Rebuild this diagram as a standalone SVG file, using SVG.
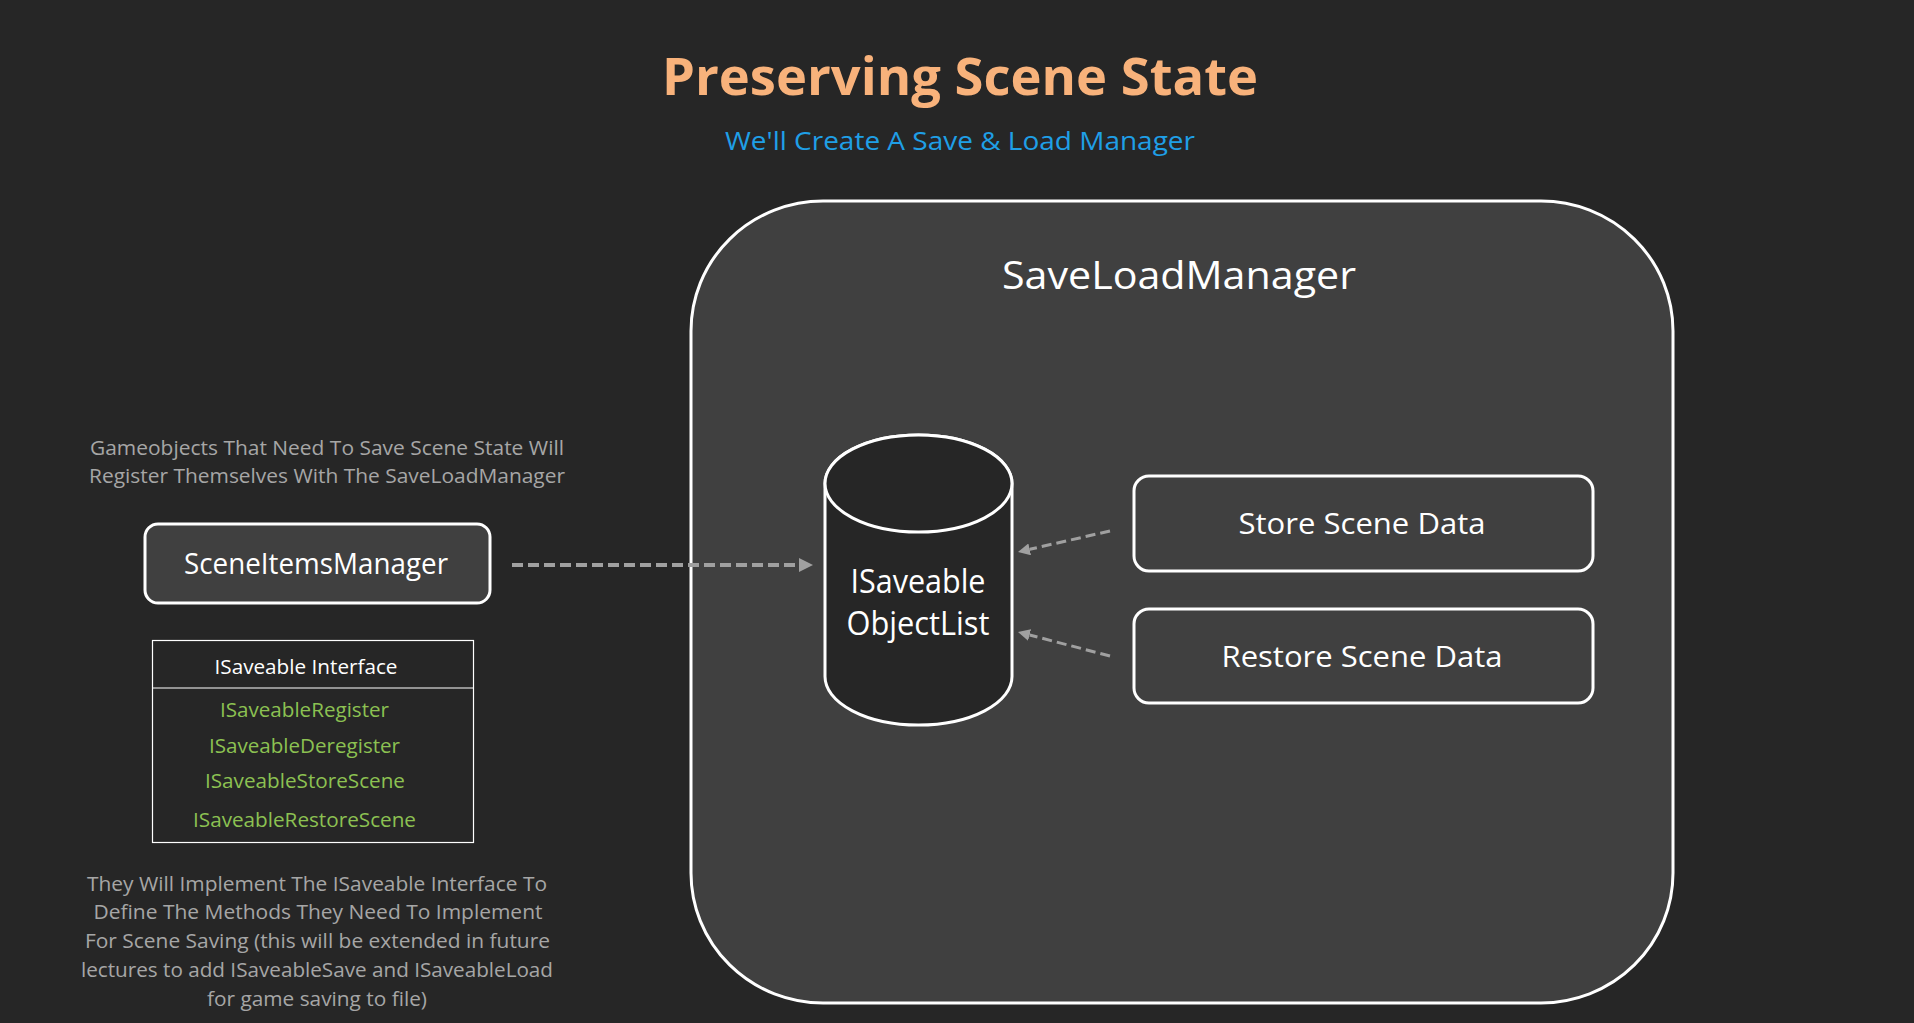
<svg xmlns="http://www.w3.org/2000/svg" width="1914" height="1023" viewBox="0 0 1914 1023">
<defs>
<style>
text{font-family:"Open Sans","Noto Sans","DejaVu Sans",sans-serif;text-anchor:middle}
.title{font-size:52px;font-weight:700;fill:#F8B27B}
.sub{font-size:25.5px;fill:#1F9FE6}
.lbl{fill:#FFFFFF}
.cap{font-size:20.5px;fill:#A6A6A6}
.green{font-size:20px;fill:#8CC152}
.hdr{font-size:20px;fill:#FFFFFF}
.box{fill:#404040;stroke:#FFFFFF;stroke-width:3}
.conn{fill:none;stroke:#A0A0A0}
</style>
<marker id="ah" markerUnits="userSpaceOnUse" markerWidth="14" markerHeight="14" refX="0" refY="7" orient="auto" viewBox="0 0 14 14">
<path d="M0,0 L14,7 L0,14 z" fill="#A0A0A0"/>
</marker>
<marker id="ah2" markerUnits="userSpaceOnUse" markerWidth="12" markerHeight="12" refX="0" refY="6" orient="auto" viewBox="0 0 12 12">
<path d="M0,0 L12,6 L0,12 z" fill="#A0A0A0"/>
</marker>
</defs>
<rect x="0" y="0" width="1914" height="1023" fill="#262626"/>

<g id="title">
<text class="title" x="960" y="95" textLength="596" lengthAdjust="spacingAndGlyphs">Preserving Scene State</text>
<text class="sub" x="960" y="150" textLength="470" lengthAdjust="spacingAndGlyphs">We'll Create A Save &amp; Load Manager</text>
</g>

<g id="saveloadmanager">
<rect x="691" y="201" width="982" height="802" rx="132" ry="130" fill="#404040" stroke="#FFFFFF" stroke-width="3"/>
<text class="lbl" x="1179" y="289" font-size="38" textLength="354" lengthAdjust="spacingAndGlyphs">SaveLoadManager</text>
</g>

<g id="objectlist">
<path d="M825,483.5 L825,676.5 A93.5,48.5 0 0 0 1012,676.5 L1012,483.5 A93.5,48.5 0 0 0 825,483.5 Z" fill="#262626" stroke="#FFFFFF" stroke-width="3"/>
<ellipse cx="918.5" cy="483.5" rx="93.5" ry="48.5" fill="#262626" stroke="#FFFFFF" stroke-width="3"/>
<text class="lbl" x="918" y="593" font-size="32" textLength="135" lengthAdjust="spacingAndGlyphs">ISaveable</text>
<text class="lbl" x="918" y="635" font-size="32" textLength="143" lengthAdjust="spacingAndGlyphs">ObjectList</text>
</g>

<g id="store">
<rect class="box" x="1134" y="476" width="459" height="95" rx="15" ry="15"/>
<text class="lbl" x="1362" y="534" font-size="30" textLength="247" lengthAdjust="spacingAndGlyphs">Store Scene Data</text>
</g>

<g id="restore">
<rect class="box" x="1134" y="609" width="459" height="94" rx="15" ry="15"/>
<text class="lbl" x="1362" y="667" font-size="30" textLength="281" lengthAdjust="spacingAndGlyphs">Restore Scene Data</text>
</g>

<g id="sceneitems">
<text class="cap" x="327" y="455" textLength="474" lengthAdjust="spacingAndGlyphs">Gameobjects That Need To Save Scene State Will</text>
<text class="cap" x="327" y="483" textLength="476" lengthAdjust="spacingAndGlyphs">Register Themselves With The SaveLoadManager</text>
<rect class="box" x="145" y="524" width="345" height="79" rx="13" ry="13"/>
<text class="lbl" x="316" y="574" font-size="30" textLength="264" lengthAdjust="spacingAndGlyphs">SceneItemsManager</text>
</g>

<g id="interface">
<rect x="152.5" y="640.5" width="321" height="202" fill="#262626" stroke="#FFFFFF" stroke-width="1.2"/>
<line x1="152.5" y1="688" x2="473.5" y2="688" stroke="#FFFFFF" stroke-width="1.2"/>
<text class="hdr" x="306" y="674" textLength="183" lengthAdjust="spacingAndGlyphs">ISaveable Interface</text>
<text class="green" x="304.5" y="717" textLength="169" lengthAdjust="spacingAndGlyphs">ISaveableRegister</text>
<text class="green" x="304.5" y="753" textLength="191" lengthAdjust="spacingAndGlyphs">ISaveableDeregister</text>
<text class="green" x="305" y="788" textLength="200" lengthAdjust="spacingAndGlyphs">ISaveableStoreScene</text>
<text class="green" x="304.5" y="827" textLength="223" lengthAdjust="spacingAndGlyphs">ISaveableRestoreScene</text>
</g>

<g id="notes">
<text class="cap" x="317" y="891" textLength="460" lengthAdjust="spacingAndGlyphs">They Will Implement The ISaveable Interface To</text>
<text class="cap" x="318" y="919" textLength="449" lengthAdjust="spacingAndGlyphs">Define The Methods They Need To Implement</text>
<text class="cap" x="317.5" y="948" textLength="465" lengthAdjust="spacingAndGlyphs">For Scene Saving (this will be extended in future</text>
<text class="cap" x="317" y="977" textLength="472" lengthAdjust="spacingAndGlyphs">lectures to add ISaveableSave and ISaveableLoad</text>
<text class="cap" x="317" y="1006" textLength="220" lengthAdjust="spacingAndGlyphs">for game saving to file)</text>
</g>

<g id="connectors">
<line class="conn" x1="512" y1="565" x2="799" y2="565" stroke-width="4" stroke-dasharray="11 5" marker-end="url(#ah)"/>
<line class="conn" x1="1110" y1="531" x2="1029.7" y2="549.3" stroke-width="3" stroke-dasharray="10 5" marker-end="url(#ah2)"/>
<line class="conn" x1="1110" y1="656" x2="1029.6" y2="635" stroke-width="3" stroke-dasharray="10 5" marker-end="url(#ah2)"/>
</g>
</svg>
